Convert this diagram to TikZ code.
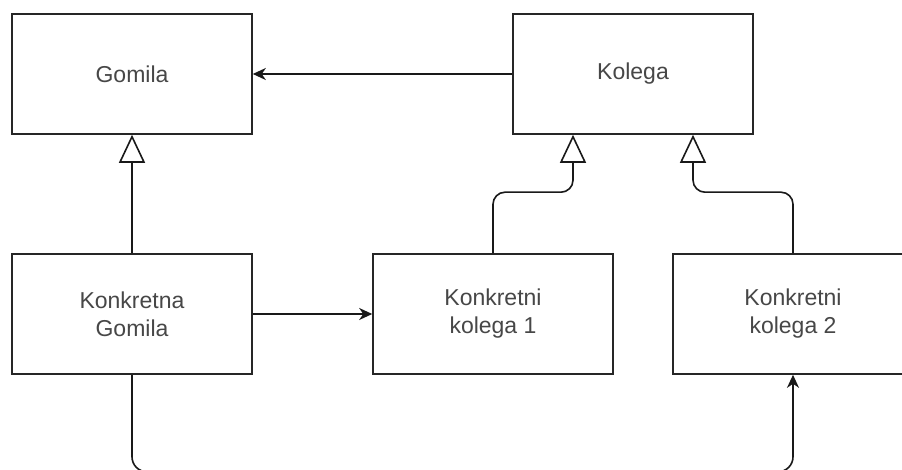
\documentclass[tikz,border=0pt]{standalone}
\usepackage{fontspec}
\setmainfont{Liberation Sans}
\usetikzlibrary{arrows.meta}
\begin{document}
\begin{tikzpicture}[x=1pt,y=-1pt,
  box/.style={draw=black!85, line width=1.6pt, minimum width=240pt, minimum height=120pt,
    inner sep=0pt, align=center, font=\fontsize{23}{28}\selectfont, text=black!72},
  conn/.style={line width=1.6pt, draw=black!90},
  fillarrow/.style={conn, -{Stealth[length=13pt,width=12pt,inset=4pt]}},
  inherit/.style={conn, -{Triangle[open,length=28pt,width=26pt,fill=white]}}]
\useasboundingbox (0,0) rectangle (902,470);
\clip (0,0) rectangle (902,470);
\fill[white] (0,0) rectangle (902,470);
\node[box] (g) at (132,74) {Gomila};
\node[box] (k) at (633,74) {Kolega};
\node[box] (kg) at (132,314) {Konkretna\\Gomila};
\node[box] (k1) at (493,314) {Konkretni\\kolega 1};
\node[box] (k2) at (793,314) {Konkretni\\kolega 2};
\coordinate (kin1) at ([xshift=-60pt]k.south);
\coordinate (kin2) at ([xshift=60pt]k.south);
\draw[fillarrow] (k.west) -- (g.east);
\draw[inherit] (kg.north) -- (g.south);
\draw[inherit, rounded corners=12pt] (k1.north) -- ++(0,-61) -| (kin1);
\draw[inherit, rounded corners=12pt] (k2.north) -- ++(0,-61) -| (kin2);
\draw[fillarrow] (kg.east) -- (k1.west);
\draw[fillarrow, rounded corners=15pt] (kg.south) -- ++(0,97) -| (k2.south);
\end{tikzpicture}
\end{document}
